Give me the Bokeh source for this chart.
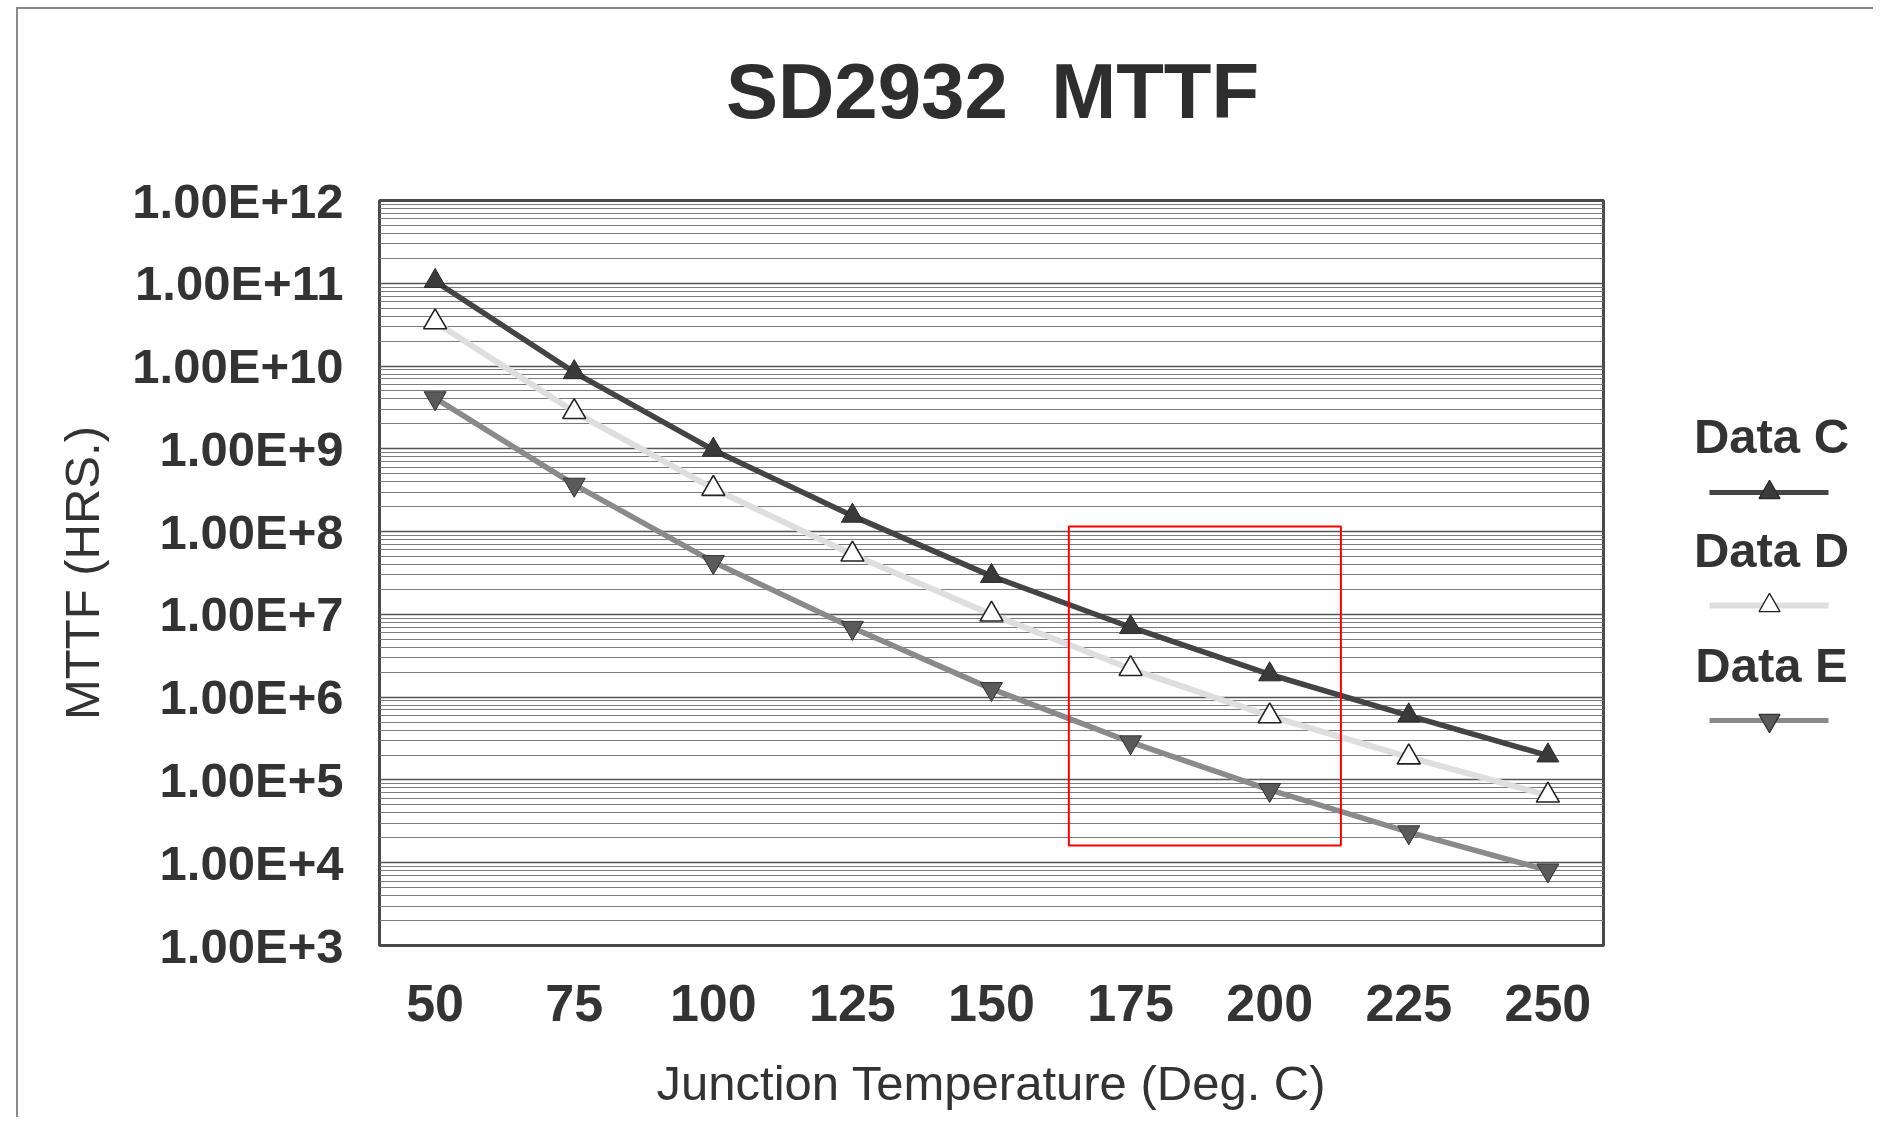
from bokeh.plotting import figure
from bokeh.models import FixedTicker, Range1d, BoxAnnotation
from bokeh.layouts import row, column
from bokeh.core.properties import value
from bokeh.embed import file_html
from bokeh.resources import INLINE

# ---------------- data ----------------
temps = [50, 75, 100, 125, 150, 175, 200, 225, 250]
data_c = [1.06e11, 8.4e9, 9.7e8, 1.55e8, 2.9e7, 7.0e6, 1.88e6, 6.0e5, 1.97e5]
data_d = [3.4e10, 2.8e9, 3.3e8, 5.3e7, 1.0e7, 2.2e6, 5.9e5, 1.88e5, 6.5e4]
data_e = [4.1e9, 3.7e8, 4.3e7, 6.9e6, 1.26e6, 2.86e5, 7.6e4, 2.34e4, 8.1e3]

x_ticks = [50, 75, 100, 125, 150, 175, 200, 225, 250]
y_ticks = [1e3, 1e4, 1e5, 1e6, 1e7, 1e8, 1e9, 1e10, 1e11, 1e12]
y_tick_labels = ["1.00E+3", "1.00E+4", "1.00E+5", "1.00E+6", "1.00E+7",
                 "1.00E+8", "1.00E+9", "1.00E+10", "1.00E+11", "1.00E+12"]
series_names = ["Data C", "Data D", "Data E"]
title_text = "SD2932 \u00a0MTTF"

# highlighted region (red box) in data units
box_x = [163.9, 212.8]
box_y = [1.61e4, 1.15e8]

FONT = value("Liberation Sans")
TXT = "#333333"
PAGE_BORDER = "2px solid #8a8a8a"

# ---------------- title strip ----------------
tf = figure(width=1857, height=150, x_range=Range1d(18, 1875), y_range=Range1d(159, 9),
            min_border=0, toolbar_location=None, output_backend="svg",
            x_axis_location=None, y_axis_location=None,
            styles={"border-left": PAGE_BORDER, "border-top": PAGE_BORDER,
                    "margin-left": "16px", "margin-top": "7px"})
tf.grid.visible = False
tf.outline_line_color = None
tf.text(x=[992], y=[90], text=[title_text], text_align="center", text_baseline="middle",
        text_font=FONT, text_font_style="bold", text_font_size="78px", text_color="#2e2e2e")

# ---------------- main chart ----------------
p = figure(y_axis_type="log",
           x_range=Range1d(40, 260), y_range=Range1d(1e3, 1e12),
           frame_width=1222, frame_height=745,
           min_border_left=361, min_border_right=89,
           min_border_top=43, min_border_bottom=172,
           output_backend="svg", toolbar_location=None,
           styles={"border-left": PAGE_BORDER, "margin-left": "16px"})

p.outline_line_color = "#4a4a4a"
p.outline_line_width = 3

minor = [m * t for t in y_ticks[:-1] for m in range(2, 10)]
p.yaxis.ticker = FixedTicker(ticks=y_ticks, minor_ticks=minor)
p.yaxis.major_label_overrides = {float(t): lab for t, lab in zip(y_ticks, y_tick_labels)}
p.xaxis.ticker = FixedTicker(ticks=x_ticks)

p.xgrid.grid_line_color = None
p.ygrid.grid_line_color = "#555555"
p.ygrid.grid_line_width = 1.4
p.ygrid.minor_grid_line_color = "#7c7c7c"
p.ygrid.minor_grid_line_width = 1

for ax in (p.xaxis, p.yaxis):
    ax.axis_line_color = None
    ax.major_tick_line_color = None
    ax.minor_tick_line_color = None
    ax.major_label_text_font = "Liberation Sans"
    ax.major_label_text_font_style = "bold"
    ax.major_label_text_color = TXT
    ax.axis_label_text_font = "Liberation Sans"
    ax.axis_label_text_font_style = "normal"
    ax.axis_label_text_color = TXT
    ax.axis_label_text_font_size = "49px"

p.xaxis.major_label_text_font_size = "52px"
p.yaxis.major_label_text_font_size = "49px"
p.xaxis.major_label_standoff = 33
p.yaxis.major_label_standoff = 30
p.xaxis.axis_label = "Junction Temperature (Deg. C)"
p.yaxis.axis_label = "MTTF (HRS.)"
p.xaxis.axis_label_standoff = 32
p.yaxis.axis_label_standoff = 20

# series
p.line(temps, data_d, line_color="#dedede", line_width=6)
p.line(temps, data_e, line_color="#8a8a8a", line_width=5.5)
p.line(temps, data_c, line_color="#444444", line_width=5.5)
p.scatter(temps, data_c, marker="triangle", size=22,
          fill_color="#3a3a3a", line_color="#2a2a2a", line_width=1)
p.scatter(temps, data_d, marker="triangle", size=23,
          fill_color="white", line_color="#222222", line_width=1.6)
p.scatter(temps, data_e, marker="inverted_triangle", size=22,
          fill_color="#5a5a5a", line_color="#333333", line_width=1)

p.add_layout(BoxAnnotation(left=box_x[0], right=box_x[1],
                           bottom=box_y[0], top=box_y[1],
                           fill_color=None, fill_alpha=0,
                           line_color="#ff0000", line_alpha=1.0, line_width=2))

# ---------------- legend panel (its frame lines up with the main frame) ----------------
lg = figure(width=186, height=960, x_range=Range1d(1690, 1876), y_range=Range1d(945, 200),
            min_border=0, toolbar_location=None, output_backend="svg",
            x_axis_location=None, y_axis_location=None)
lg.grid.visible = False
lg.outline_line_color = None

text_y = [435, 549, 664]
line_y = [492, 605, 720]
line_cols = ["#444444", "#dedede", "#8a8a8a"]
line_w = [5, 6, 5]
mk = ["triangle", "triangle", "inverted_triangle"]
mk_fill = ["#3a3a3a", "white", "#5a5a5a"]
mk_line = ["#2a2a2a", "#222222", "#333333"]
for i, name in enumerate(series_names):
    lg.text(x=[1771], y=[text_y[i]], text=[name], text_align="center",
            text_baseline="alphabetic", text_font=FONT, text_font_style="bold",
            text_font_size="49px", text_color=TXT)
    lg.segment(x0=[1709], x1=[1828], y0=[line_y[i]], y1=[line_y[i]],
               line_color=line_cols[i], line_width=line_w[i])
    lg.scatter(x=[1769], y=[line_y[i]], marker=mk[i], size=21,
               fill_color=mk_fill[i], line_color=mk_line[i], line_width=1.3)

layout = column(tf, row(p, lg))
open("out.html", "w").write(file_html(layout, INLINE))
